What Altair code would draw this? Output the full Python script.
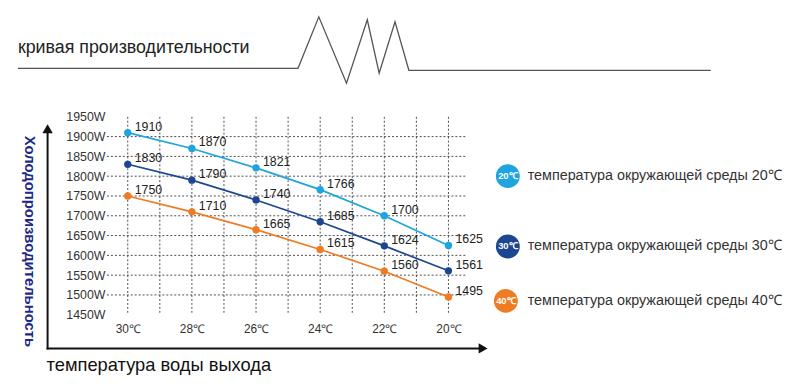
import altair as alt
import pandas as pd

# ---- data ----
water_temp = [30, 28, 26, 24, 22, 20]
cap_20 = [1910, 1870, 1821, 1766, 1700, 1625]
cap_30 = [1830, 1790, 1740, 1685, 1624, 1561]
cap_40 = [1750, 1710, 1665, 1615, 1560, 1495]
series_names = ["20℃", "30℃", "40℃"]
legend_labels = [
    "температура окружающей среды 20℃",
    "температура окружающей среды 30℃",
    "температура окружающей среды 40℃",
]
y_ticks = [1450, 1500, 1550, 1600, 1650, 1700, 1750, 1800, 1850, 1900, 1950]
y_grid = [1500, 1550, 1600, 1650, 1700, 1750, 1800, 1850, 1900]
x_grid = [20, 21, 22, 23, 24, 25, 26, 27, 28, 29, 30]
title_text = "кривая производительности"
x_title = "температура воды выхода"
y_title = "Холодопроизводительность"

# ---- styles / layout ----
colors = ["#1ea4df", "#1d4690", "#ef7b23"]
FONT = "Liberation Sans"
W, H = 362, 200
PADL, PADT = 100, 108          # plot origin on the svg
OX, OY = PADL + 8, PADT + 8    # plot origin on the page
legend_y_page = [176, 247, 302]
legend_x_page = [513, 513, 511]
legend_text_x_page = 533
zig_x_page = [18, 301, 322, 350, 371, 383, 399, 413, 718]
zig_y_page = [67, 67, 15, 82, 18, 72, 20, 69, 69]

rows = []
for name, vals in zip(series_names, [cap_20, cap_30, cap_40]):
    for t, v in zip(water_temp, vals):
        rows.append({"series": name, "t": t, "cap": v})
df = pd.DataFrame(rows)

xs = alt.Scale(domain=[19.475, 30.648], reverse=True, nice=False, zero=False)
ys = alt.Scale(domain=[1450, 1950], nice=False, zero=False)
cs = alt.Scale(domain=series_names, range=colors)

x_axis = alt.Axis(values=water_temp, labelExpr="datum.value + '℃'", domain=False,
                  ticks=False, grid=False, title=None, labelFontSize=12,
                  labelColor="#333333", labelPadding=9, labelFont=FONT,
                  labelFlush=False, labelOverlap=False)
y_axis = alt.Axis(values=y_ticks, labelExpr="datum.value + 'W'", domain=False,
                  ticks=False, grid=False, title=None, labelFontSize=12.5,
                  labelColor="#333333", labelPadding=2, labelFont=FONT,
                  labelFlush=False, labelOverlap=False)

vgrid = alt.Chart(pd.DataFrame({"t": x_grid})).mark_rule(
    strokeDash=[2, 2], color="#4d4d4d", strokeWidth=1
).encode(x=alt.X("t:Q", scale=xs, axis=x_axis), y=alt.value(0), y2=alt.value(H))

hgrid = alt.Chart(pd.DataFrame({"cap": y_grid})).mark_rule(
    strokeDash=[2, 2], color="#4d4d4d", strokeWidth=1
).encode(y=alt.Y("cap:Q", scale=ys, axis=y_axis), x=alt.value(0), x2=alt.value(W))

base = alt.Chart(df).encode(
    x=alt.X("t:Q", scale=xs, axis=x_axis),
    y=alt.Y("cap:Q", scale=ys, axis=y_axis),
    color=alt.Color("series:N", scale=cs, legend=None),
)
lines = base.mark_line(strokeWidth=1.7)
points = base.mark_circle(size=55, opacity=1)
labels = base.mark_text(align="left", baseline="middle", dx=7, dy=-6,
                        fontSize=12.5, font=FONT).encode(
    text="cap:Q", color=alt.value("#222222"))

# decorations
title = alt.Chart(pd.DataFrame({"s": [title_text]})).mark_text(
    align="left", baseline="middle", fontSize=18, font=FONT, color="#222222"
).encode(text="s:N", x=alt.value(18 - OX), y=alt.value(47 - OY))

zig = alt.Chart(pd.DataFrame({"px": zig_x_page, "py": zig_y_page,
                              "o": list(range(len(zig_x_page)))})).transform_calculate(
    qx=f"datum.px - {OX}", qy=f"datum.py - {OY}"
).mark_line(color="#555555", strokeWidth=1.3).encode(
    x=alt.X("qx:Q", scale=None, axis=None),
    y=alt.Y("qy:Q", scale=None, axis=None),
    order="o:Q",
)

dummy = pd.DataFrame({"a": [0]})
yline = alt.Chart(dummy).mark_rule(color="#111111", strokeWidth=2).encode(
    x=alt.value(48 - OX), y=alt.value(132 - OY), y2=alt.value(351 - OY))
yhead = alt.Chart(dummy).mark_point(shape="triangle-up", filled=True, size=110,
                                    color="#111111", opacity=1).encode(
    x=alt.value(48 - OX), y=alt.value(128 - OY))
xline = alt.Chart(dummy).mark_rule(color="#111111", strokeWidth=2).encode(
    x=alt.value(47 - OX), x2=alt.value(484 - OX), y=alt.value(350 - OY))
xhead = alt.Chart(dummy).mark_point(shape="triangle-right", filled=True, size=110,
                                    color="#111111", opacity=1).encode(
    x=alt.value(488 - OX), y=alt.value(350 - OY))

ytitle = alt.Chart(pd.DataFrame({"s": [y_title]})).mark_text(
    angle=90, align="center", baseline="middle", fontSize=15, fontWeight="bold",
    font=FONT, color="#1c2a86"
).encode(text="s:N", x=alt.value(30 - OX), y=alt.value(242 - OY))

xtitle = alt.Chart(pd.DataFrame({"s": [x_title]})).mark_text(
    align="left", baseline="middle", fontSize=18.5, font=FONT, color="#111111"
).encode(text="s:N", x=alt.value(47 - OX), y=alt.value(367 - OY))

leg_df = pd.DataFrame({"series": series_names, "label": legend_labels,
                       "lx": [v - OX for v in legend_x_page],
                       "ly": [v - OY for v in legend_y_page]})
leg_circ = alt.Chart(leg_df).mark_circle(size=580, opacity=1).encode(
    x=alt.X("lx:Q", scale=None, axis=None), y=alt.Y("ly:Q", scale=None, axis=None),
    color=alt.Color("series:N", scale=cs, legend=None))
leg_in = alt.Chart(leg_df).mark_text(
    fontSize=9.5, fontWeight="bold", font=FONT, color="white",
    align="center", baseline="middle"
).encode(text="series:N", x=alt.X("lx:Q", scale=None, axis=None),
         y=alt.Y("ly:Q", scale=None, axis=None))
leg_txt = alt.Chart(leg_df).mark_text(
    fontSize=14.5, font=FONT, color="#333333", align="left", baseline="middle"
).encode(text="label:N", x=alt.value(legend_text_x_page - OX),
         y=alt.Y("ly:Q", scale=None, axis=None))

chart = alt.layer(
    vgrid, hgrid, lines, points, labels,
    title, zig, yline, yhead, xline, xhead, ytitle, xtitle,
    leg_circ, leg_in, leg_txt,
).properties(
    width=W, height=H,
    autosize=alt.AutoSizeParams(type="none"),
    padding={"left": PADL, "top": PADT, "right": 784 - PADL - W, "bottom": 372 - PADT - H},
    background="white",
).configure_view(stroke=None)

chart.save("out.html", embed_options={"renderer": "svg", "actions": False})
